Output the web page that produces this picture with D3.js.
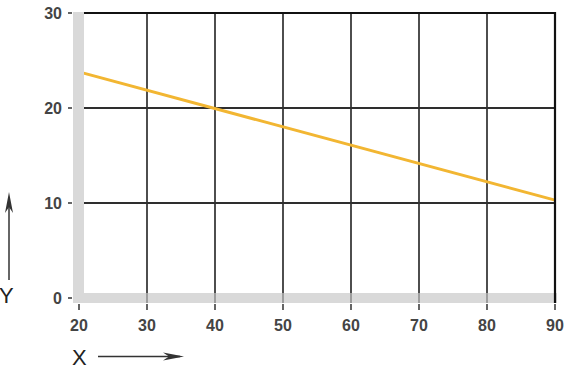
<!DOCTYPE html>
<html>
<head>
<meta charset="utf-8">
<script src="https://cdn.jsdelivr.net/npm/d3@7"></script>
<style>
  body { margin: 0; background: #fff; }
  svg text { font-family: "Liberation Sans", Arial, sans-serif; }
</style>
</head>
<body>
<div id="chart"></div>
<script>
// values
var xTicks = [20, 30, 40, 50, 60, 70, 80, 90];
var yTicks = [0, 10, 20, 30];
var lineX = [20, 90];
var lineY = [23.8, 10.3];

var width = 570, height = 380;

var svg = d3.select("#chart").append("svg")
  .attr("width", width)
  .attr("height", height);

var x = d3.scaleLinear().domain([20, 90]).range([79, 555]);
var y = d3.scaleLinear().domain([0, 30]).range([298, 13]);

// plot area edges (inside the grey axis band)
var plotLeft = 84, plotTop = y(30), plotBottom = 293, plotRight = x(90);

// vertical grid lines, running down through the band to the ticks
svg.append("g").selectAll("line")
  .data(xTicks.slice(1, -1)).enter()
  .append("line")
    .attr("x1", function(d) { return x(d); })
    .attr("x2", function(d) { return x(d); })
    .attr("y1", plotTop)
    .attr("y2", 303)
    .style("stroke", "#3a3a3a")
    .style("stroke-width", 1.8);

// horizontal grid lines
svg.append("g").selectAll("line")
  .data([10, 20]).enter()
  .append("line")
    .attr("x1", plotLeft)
    .attr("x2", plotRight)
    .attr("y1", function(d) { return y(d); })
    .attr("y2", function(d) { return y(d); })
    .style("stroke", "#2e2e2e")
    .style("stroke-width", 1.8);

// the data line
var data = lineX.map(function(v, i) { return [v, lineY[i]]; });
svg.append("path")
  .datum(data)
  .attr("d", d3.line().x(function(d) { return x(d[0]); }).y(function(d) { return y(d[1]); }))
  .style("fill", "none")
  .style("stroke", "#f2b632")
  .style("stroke-width", 3);

// grey L-shaped axis band, drawn over the line start
svg.append("rect")
  .attr("x", 73).attr("y", plotTop - 1)
  .attr("width", plotLeft - 73).attr("height", 303 - plotTop + 1)
  .style("fill", "#d9d9d9");
svg.append("rect")
  .attr("x", 73).attr("y", plotBottom)
  .attr("width", plotRight + 2 - 73).attr("height", 10)
  .style("fill", "#d9d9d9");

// vertical gridlines show faintly through the bottom band
svg.append("g").selectAll("line")
  .data(xTicks.slice(1, -1)).enter()
  .append("line")
    .attr("x1", function(d) { return x(d); })
    .attr("x2", function(d) { return x(d); })
    .attr("y1", plotBottom)
    .attr("y2", 303)
    .style("stroke", "#888")
    .style("stroke-width", 1.5);

// the 30 and 90 gridlines are the frame
svg.append("path")
  .attr("d", "M" + plotLeft + "," + plotTop + "H" + plotRight + "V303")
  .style("fill", "none")
  .style("stroke", "#111")
  .style("stroke-width", 2.2);

// x axis ticks and labels
var xAxis = svg.append("g").selectAll("g")
  .data(xTicks).enter()
  .append("g")
    .attr("transform", function(d) { return "translate(" + x(d) + ",0)"; });
xAxis.append("line")
  .attr("y1", 304).attr("y2", 310)
  .style("stroke", "#555")
  .style("stroke-width", 1.8);
xAxis.append("text")
  .attr("y", 331)
  .attr("text-anchor", "middle")
  .style("font-size", "16px")
  .style("font-weight", "bold")
  .style("fill", "#444")
  .text(function(d) { return d; });

// y axis ticks and labels
var yAxis = svg.append("g").selectAll("g")
  .data(yTicks).enter()
  .append("g")
    .attr("transform", function(d) { return "translate(0," + y(d) + ")"; });
yAxis.append("line")
  .attr("x1", 68).attr("x2", 72)
  .style("stroke", "#555")
  .style("stroke-width", 1.8);
yAxis.append("text")
  .attr("x", 62)
  .attr("dy", "0.36em")
  .attr("text-anchor", "end")
  .style("font-size", "16px")
  .style("font-weight", "bold")
  .style("fill", "#444")
  .text(function(d) { return d; });

// axis names with arrows
svg.append("text")
  .attr("x", 72).attr("y", 365)
  .style("font-size", "22px")
  .style("fill", "#222")
  .text("X");
svg.append("text")
  .attr("x", -1).attr("y", 303)
  .style("font-size", "22px")
  .style("fill", "#222")
  .text("Y");

svg.append("line")
  .attr("x1", 98).attr("x2", 180)
  .attr("y1", 356.5).attr("y2", 356.5)
  .style("stroke", "#333").style("stroke-width", 1.5);
svg.append("path")
  .attr("d", "M184,356.5 L163,352.5 L169,356.5 L163,360.5 Z")
  .style("fill", "#333");

svg.append("line")
  .attr("x1", 9).attr("x2", 9)
  .attr("y1", 280).attr("y2", 197)
  .style("stroke", "#333").style("stroke-width", 1.5);
svg.append("path")
  .attr("d", "M9,192 L5,213 L9,207 L13,213 Z")
  .style("fill", "#333");
</script>
</body>
</html>
